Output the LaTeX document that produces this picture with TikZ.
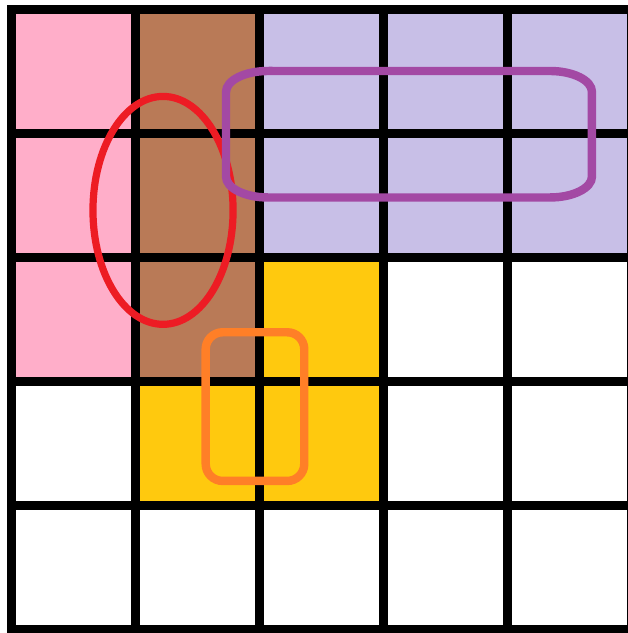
\documentclass[tikz,border=0pt]{standalone}
\usepackage{tikz}
\definecolor{paintpink}{HTML}{FFAEC9}
\definecolor{paintbrown}{HTML}{B97A57}
\definecolor{paintlavender}{HTML}{C8BFE7}
\definecolor{paintgold}{HTML}{FFC90E}
\definecolor{paintred}{HTML}{ED1C24}
\definecolor{paintpurple}{HTML}{A349A4}
\definecolor{paintorange}{HTML}{FF7F27}

\begin{document}
\begin{tikzpicture}[
    x=2.48cm,
    y=2.48cm,
    gridline/.style={line width=5.1pt, line cap=rect},
    loopline/.style={line width=4.8pt, draw=#1},
]
    \useasboundingbox (-0.0927,-0.0282) rectangle (4.9637,5.0766);

    % coloured cells
    \fill[paintpink] (0,2) rectangle (1,5);
    \fill[paintbrown] (1,2) rectangle (2,5);
    \fill[paintlavender] (2,3) rectangle (5,5);
    \fill[paintgold] (2,2) rectangle (3,3);
    \fill[paintgold] (1,1) rectangle (3,2);

    % the 5x5 grid
    \foreach \k in {0,...,5} {
        \draw[gridline] (\k,0) -- (\k,5);
        \draw[gridline] (0,\k) -- (5,\k);
    }

    % groupings
    \draw[loopline=paintred, line width=4.1pt] (1.222,3.380) ellipse [x radius=0.565, y radius=0.919];
    \draw[loopline=paintpurple]
        (2.069,4.504) -- (4.342,4.504)
        arc[start angle=90, end angle=0, x radius=0.339, y radius=0.169]
        -- (4.681,3.653)
        arc[start angle=0, end angle=-90, x radius=0.339, y radius=0.169]
        -- (2.069,3.484)
        arc[start angle=-90, end angle=-180, x radius=0.339, y radius=0.169]
        -- (1.730,4.335)
        arc[start angle=180, end angle=90, x radius=0.339, y radius=0.169]
        -- cycle;
    \draw[loopline=paintorange, rounded corners=0.34cm] (1.566,1.198) rectangle (2.361,2.397);
\end{tikzpicture}
\end{document}
